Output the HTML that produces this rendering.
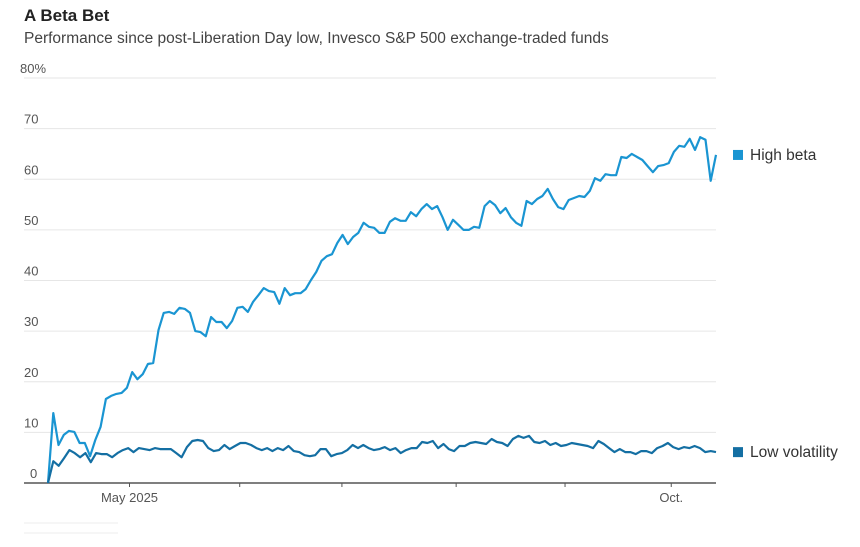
<!DOCTYPE html>
<html><head><meta charset="utf-8">
<style>
html,body{margin:0;padding:0;background:#fff;}
body{width:860px;height:547px;overflow:hidden;position:relative;font-family:"Liberation Sans Narrow","Liberation Sans",sans-serif;color:#333;}
svg{position:absolute;left:0;top:0;}
</style></head>
<body>
<svg id="chart" width="860" height="547">
  <text x="24" y="21" font-size="17" font-weight="bold" fill="#222" font-family="Liberation Sans Narrow, Liberation Sans, sans-serif">A Beta Bet</text>
  <text x="24" y="43" font-size="15.5" fill="#444" font-family="Liberation Sans Narrow, Liberation Sans, sans-serif">Performance since post-Liberation Day low, Invesco S&amp;P 500 exchange-traded funds</text>
  <g id="grid"></g>
  <g id="series"></g>
  <g id="legend"></g>
  <line x1="24" y1="523" x2="118" y2="523" stroke="#eee"/>
  <line x1="24" y1="533" x2="118" y2="533" stroke="#eee"/>
</svg>
<script>
const yTicks = [0,10,20,30,40,50,60,70,80];
const xTickLabels = ["May 2025","","","","","Oct."];
const xTickFrac = [0.122,0.287,0.44,0.611,0.774,0.933];
const highBeta = [0,13.8,7.5,9.5,10.3,10.1,7.9,7.9,5.3,8.5,11.1,16.6,17.2,17.6,17.8,18.8,21.9,20.5,21.5,23.5,23.7,30.2,33.6,33.8,33.4,34.6,34.4,33.6,30.0,29.8,29.0,32.8,31.8,31.8,30.6,32.0,34.6,34.8,33.8,35.8,37.1,38.5,37.9,37.7,35.4,38.5,37.1,37.5,37.5,38.3,40.1,41.7,43.9,44.8,45.2,47.4,49.0,47.2,48.6,49.4,51.4,50.6,50.4,49.4,49.4,51.6,52.3,51.8,51.8,53.5,52.7,54.1,55.1,54.1,54.7,52.5,50.0,52.0,51.0,50.0,50.0,50.6,50.4,54.7,55.7,54.9,53.3,54.3,52.5,51.4,50.8,55.7,55.1,56.1,56.7,58.1,56.1,54.5,54.1,55.9,56.3,56.7,56.5,57.7,60.2,59.7,61.0,60.8,60.8,64.4,64.2,65.0,64.4,63.8,62.6,61.4,62.6,62.8,63.2,65.4,66.6,66.4,68.0,65.8,68.3,67.8,59.7,64.8];
const lowVol = [0,4.3,3.4,4.9,6.5,5.9,5.1,5.9,4.1,5.9,5.7,5.7,5.1,5.9,6.5,6.9,6.1,6.9,6.7,6.5,6.9,6.7,6.7,6.7,5.9,5.1,7.1,8.3,8.5,8.3,6.9,6.3,6.5,7.5,6.7,7.3,7.9,7.9,7.5,6.9,6.5,6.9,6.3,6.9,6.5,7.3,6.3,6.1,5.5,5.3,5.5,6.7,6.7,5.3,5.7,5.9,6.5,7.5,6.9,7.5,6.9,6.5,6.7,7.1,6.5,6.9,5.9,6.5,6.9,6.9,8.1,7.9,8.3,6.9,7.7,6.7,6.3,7.3,7.3,7.9,8.1,7.9,7.7,8.7,8.1,7.9,7.3,8.7,9.3,8.9,9.3,8.1,7.9,8.3,7.5,7.9,7.3,7.5,7.9,7.7,7.5,7.3,6.9,8.3,7.7,6.9,6.1,6.7,6.1,6.1,5.7,6.3,6.3,5.9,6.9,7.3,7.9,7.1,6.7,7.1,6.9,7.3,6.9,6.1,6.3,6.1];
const seriesNames = ["High beta","Low volatility"];
const seriesColors = ["#1a95d2","#146fa3"];

const X0=48, X1=716, Y0=483, Y80=78;
const yScale = v => Y0 + (Y80-Y0)*v/80;
const xScale = (i,n) => X0 + (X1-X0)*i/(n-1);
const NS="http://www.w3.org/2000/svg";
const grid=document.getElementById('grid');
yTicks.forEach(t=>{
  const y=yScale(t);
  if(t>0){
    const l=document.createElementNS(NS,'line');
    l.setAttribute('x1',24);l.setAttribute('x2',716);l.setAttribute('y1',y);l.setAttribute('y2',y);
    l.setAttribute('stroke','#e6e6e6');l.setAttribute('stroke-width','1');
    
    
    grid.appendChild(l);
  }
  const tx=document.createElementNS(NS,'text');
  tx.setAttribute('x',t===80?20:(t===0?30:24));tx.setAttribute('y',y-5);
  tx.setAttribute('font-size','13');tx.setAttribute('fill','#555');
  tx.textContent = t===80? '80%' : String(t);
  
  
  grid.appendChild(tx);
});
const base=document.createElementNS(NS,'line');
base.setAttribute('x1',24);base.setAttribute('x2',716);base.setAttribute('y1',Y0);base.setAttribute('y2',Y0);
base.setAttribute('stroke','#555');base.setAttribute('stroke-width','1.5');


grid.appendChild(base);
xTickFrac.forEach((f,i)=>{
  const x=X0+(X1-X0)*f;
  const l=document.createElementNS(NS,'line');
  l.setAttribute('x1',x);l.setAttribute('x2',x);l.setAttribute('y1',Y0);l.setAttribute('y2',Y0+4);
  l.setAttribute('stroke','#555');
  
  
  grid.appendChild(l);
  if(xTickLabels[i]){
    const tx=document.createElementNS(NS,'text');
    tx.setAttribute('x',x);tx.setAttribute('y',502);tx.setAttribute('text-anchor','middle');
    tx.setAttribute('font-size','13');tx.setAttribute('fill','#555');
    tx.textContent=xTickLabels[i];
    
    
    grid.appendChild(tx);
  }
});
const sg=document.getElementById('series');
[highBeta,lowVol].forEach((arr,k)=>{
  const p=document.createElementNS(NS,'polyline');
  p.setAttribute('points',arr.map((v,i)=>xScale(i,arr.length).toFixed(1)+','+yScale(v).toFixed(1)).join(' '));
  p.setAttribute('fill','none');p.setAttribute('stroke',seriesColors[k]);p.setAttribute('stroke-width','2.2');
  p.setAttribute('stroke-linejoin','round');
  
  
  sg.appendChild(p);
});
const lg=document.getElementById('legend');
[highBeta,lowVol].forEach((arr,k)=>{
  const y=yScale(arr[arr.length-1]);
  const r=document.createElementNS(NS,'rect');
  r.setAttribute('x',733);r.setAttribute('y',y-5);r.setAttribute('width',10);r.setAttribute('height',10);
  r.setAttribute('fill',seriesColors[k]);
  
  
  lg.appendChild(r);
  const t=document.createElementNS(NS,'text');
  t.setAttribute('x',750);t.setAttribute('y',y+5);t.setAttribute('font-size','15.5');t.setAttribute('fill','#333');
  t.textContent=seriesNames[k];
  
  
  lg.appendChild(t);
});
</script>
</body></html>
